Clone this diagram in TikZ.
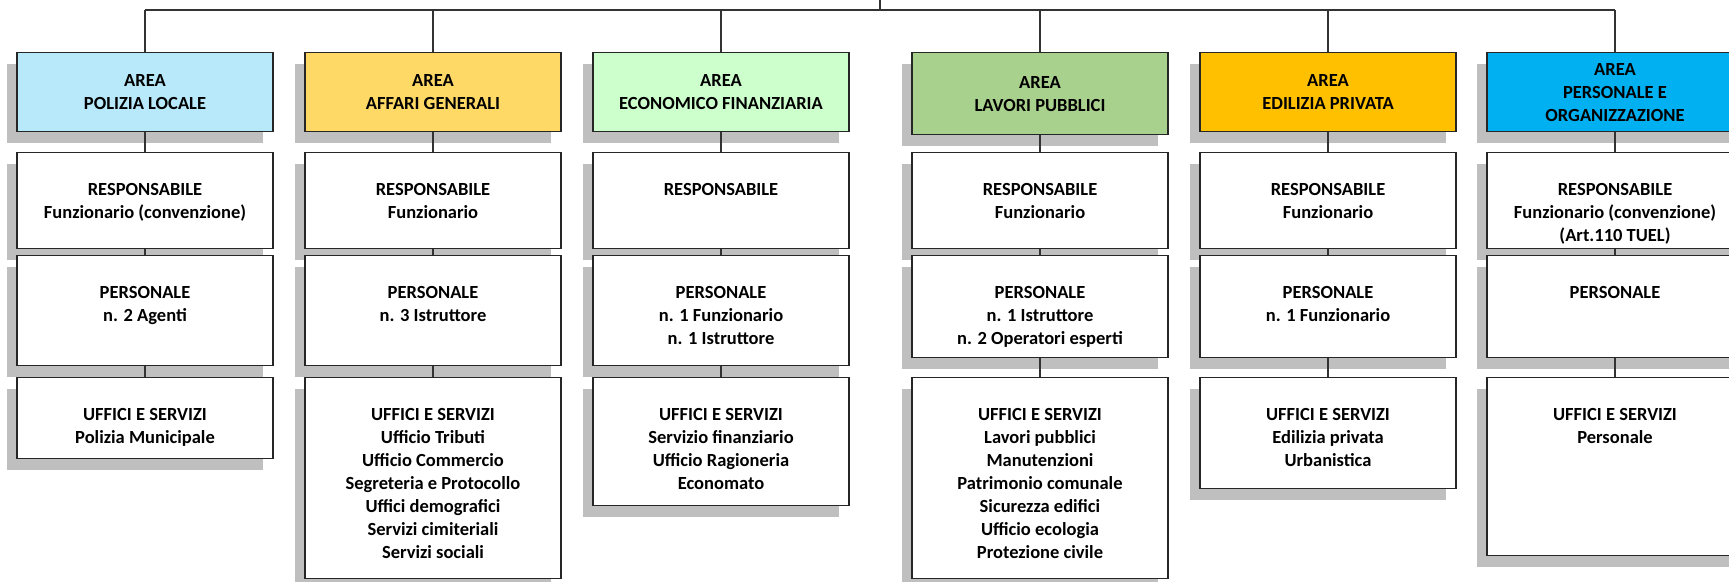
\documentclass[tikz,border=0pt]{standalone}
\usepackage{fontspec}
\setmainfont{Carlito}
\usetikzlibrary{shadows}

\definecolor{polizia}{RGB}{183,233,250}
\definecolor{affari}{RGB}{255,217,102}
\definecolor{economico}{RGB}{204,255,204}
\definecolor{lavori}{RGB}{169,209,142}
\definecolor{edilizia}{RGB}{255,192,0}
\definecolor{personale}{RGB}{0,176,240}
\definecolor{shadowgray}{RGB}{191,191,191}

\tikzset{
  orgbox/.style={draw=black!85,line width=1.3pt,fill=white,rectangle,inner sep=0pt,
    minimum width=256pt,anchor=north,
    drop shadow={shadow xshift=-10pt,shadow yshift=-11pt,fill=shadowgray,opacity=1}},
  areabox/.style={orgbox,fill=#1,minimum height=79pt,align=center,
    font=\bfseries\fontsize{18.5}{23}\selectfont},
  boxtext/.style={anchor=north,align=center,inner sep=0pt,
    font=\bfseries\fontsize{18.5}{23}\selectfont},
  link/.style={draw=black!80,line width=1.2pt}
}
\newcommand{\tikzOrgBox}[4]{
  \node[orgbox,minimum height=#3] (#1) at (#2) {};
  \node[boxtext] (#1-text) at ([yshift=-31pt]#1.north) {#4};
}

\begin{document}
\begin{tikzpicture}[x=1pt,y=-1pt]
  \useasboundingbox (0,0) rectangle (1729,581);
  \clip (0,0) rectangle (1729,581);

  %bus
  \coordinate (root) at (880,0);
  \coordinate (bus) at (880,10);

  %polizia locale
  \node[areabox=polizia] (a1) at (145,52) {AREA\\POLIZIA LOCALE};
  \tikzOrgBox{r1}{145,152}{96pt}{RESPONSABILE\\Funzionario (convenzione)}
  \tikzOrgBox{p1}{145,255}{110pt}{PERSONALE\\n. 2 Agenti}
  \tikzOrgBox{u1}{145,377}{81pt}{UFFICI E SERVIZI\\Polizia Municipale}

  %affari generali
  \node[areabox=affari] (a2) at (433,52) {AREA\\AFFARI GENERALI};
  \tikzOrgBox{r2}{433,152}{96pt}{RESPONSABILE\\Funzionario}
  \tikzOrgBox{p2}{433,255}{110pt}{PERSONALE\\n. 3 Istruttore}
  \tikzOrgBox{u2}{433,377}{201pt}{UFFICI E SERVIZI\\Ufficio Tributi\\Ufficio Commercio\\Segreteria e Protocollo\\Uffici demografici\\Servizi cimiteriali\\Servizi sociali}

  %economico finanziaria
  \node[areabox=economico] (a3) at (721,52) {AREA\\ECONOMICO FINANZIARIA};
  \tikzOrgBox{r3}{721,152}{96pt}{RESPONSABILE}
  \tikzOrgBox{p3}{721,255}{110pt}{PERSONALE\\n. 1 Funzionario\\n. 1 Istruttore}
  \tikzOrgBox{u3}{721,377}{128pt}{UFFICI E SERVIZI\\Servizio finanziario\\Ufficio Ragioneria\\Economato}

  %lavori pubblici
  \node[areabox=lavori,minimum height=82pt] (a4) at (1040,52) {AREA\\LAVORI PUBBLICI};
  \tikzOrgBox{r4}{1040,152}{96pt}{RESPONSABILE\\Funzionario}
  \tikzOrgBox{p4}{1040,255}{102pt}{PERSONALE\\n. 1 Istruttore\\n. 2 Operatori esperti}
  \tikzOrgBox{u4}{1040,377}{201pt}{UFFICI E SERVIZI\\Lavori pubblici\\Manutenzioni\\Patrimonio comunale\\Sicurezza edifici\\Ufficio ecologia\\Protezione civile}

  %edilizia privata
  \node[areabox=edilizia] (a5) at (1328,52) {AREA\\EDILIZIA PRIVATA};
  \tikzOrgBox{r5}{1328,152}{96pt}{RESPONSABILE\\Funzionario}
  \tikzOrgBox{p5}{1328,255}{102pt}{PERSONALE\\n. 1 Funzionario}
  \tikzOrgBox{u5}{1328,377}{111pt}{UFFICI E SERVIZI\\Edilizia privata\\Urbanistica}

  %personale e organizzazione
  \node[areabox=personale] (a6) at (1615,52) {AREA\\PERSONALE E\\ORGANIZZAZIONE};
  \tikzOrgBox{r6}{1615,152}{96pt}{RESPONSABILE\\Funzionario (convenzione)\\(Art.110 TUEL)}
  \tikzOrgBox{p6}{1615,255}{102pt}{PERSONALE}
  \tikzOrgBox{u6}{1615,377}{178pt}{UFFICI E SERVIZI\\Personale}

  %links
  \path[link] (root) edge (bus) (a1.north |- bus) edge (a6.north |- bus);
  \foreach \i in {1,...,6}{
    \path[link] (a\i.north |- bus) edge (a\i) (a\i) edge (r\i) (r\i) edge (p\i) (p\i) edge (u\i);
  }
\end{tikzpicture}
\end{document}
